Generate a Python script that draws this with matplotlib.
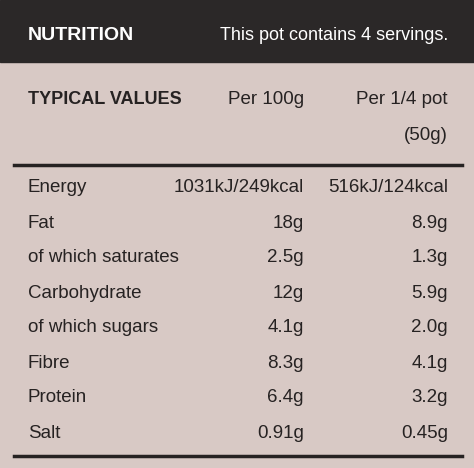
import matplotlib.pyplot as plt

nutrients = ["Energy", "Fat", "of which saturates", "Carbohydrate",
             "of which sugars", "Fibre", "Protein", "Salt"]
per_100g = ["1031kJ/249kcal", "18g", "2.5g", "12g", "4.1g", "8.3g", "6.4g", "0.91g"]
per_pot = ["516kJ/124kcal", "8.9g", "1.3g", "5.9g", "2.0g", "4.1g", "3.2g", "0.45g"]

bg = "#d8c9c5"
ink = "#262222"
plt.rcParams['font.family'] = ['Liberation Sans', 'DejaVu Sans']

fig = plt.figure(figsize=(4.74, 4.68), dpi=100, facecolor=bg)
ax = fig.add_axes([0, 0, 1, 1])
ax.set_xlim(0, 474)
ax.set_ylim(468, 0)
ax.axis("off")
ax.set_facecolor(bg)

# dark header band
ax.add_patch(plt.Rectangle((0, 0), 474, 62, color="#2b2828"))
ax.text(28, 36, "NUTRITION", color="white", fontsize=14, weight="bold", va="center")
ax.text(448, 36, "This pot contains 4 servings.", color="white", fontsize=13,
        ha="right", va="center")

ax.text(28, 100, "TYPICAL VALUES", color=ink, fontsize=13, weight="bold", va="center")
ax.text(304, 100, "Per 100g", color=ink, fontsize=13.5, ha="right", va="center")
ax.text(448, 100, "Per 1/4 pot", color=ink, fontsize=13.5, ha="right", va="center")
ax.text(448, 135, "(50g)", color=ink, fontsize=13.5, ha="right", va="center")

ax.plot([14, 462], [165, 165], color=ink, lw=2.5)
ax.plot([14, 462], [456, 456], color=ink, lw=2.5)

for i, name in enumerate(nutrients):
    y = 188 + i * 35
    ax.text(28, y, name, color=ink, fontsize=13.5, va="center")
    ax.text(304, y, per_100g[i], color=ink, fontsize=13.5, ha="right", va="center")
    ax.text(448, y, per_pot[i], color=ink, fontsize=13.5, ha="right", va="center")

fig.savefig("out.png", dpi=100, facecolor=bg)
